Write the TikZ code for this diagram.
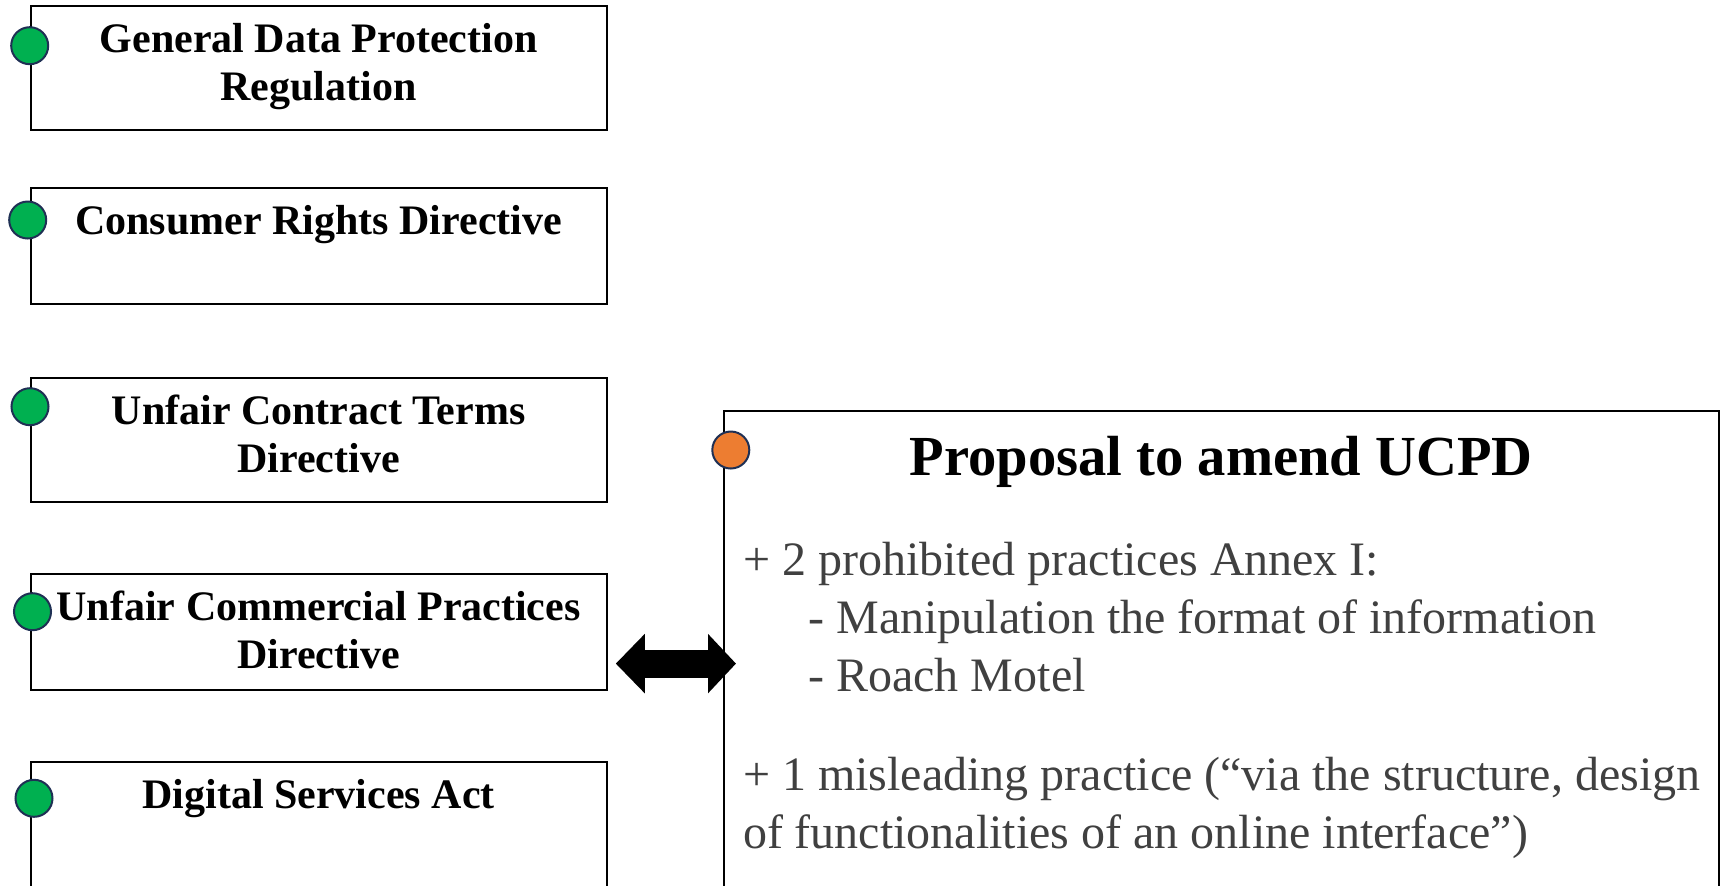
\documentclass[tikz,border=0pt]{standalone}
\usepackage{fontspec}
\setmainfont{Liberation Serif}
\usetikzlibrary{arrows.meta, positioning, calc, shapes}
\definecolor{lawgreen}{RGB}{0,176,80}
\definecolor{proporange}{RGB}{237,125,49}
\definecolor{dotnavy}{RGB}{31,48,84}
\definecolor{bodygray}{RGB}{64,64,64}

\begin{document}
\begin{tikzpicture}[x=0.5pt, y=-0.5pt,
        lawbox/.style={draw, line width=0.9pt, anchor=north west, minimum width=288pt,
            inner ysep=0pt, text height=23.3pt, align=center,
            font=\fontsize{21}{24}\selectfont\bfseries},
        twoline/.style={text height=47.3pt},
        lawdot/.style={circle, draw=dotnavy, fill=lawgreen, line width=1pt, minimum size=18.5pt, inner sep=0pt},
        propdot/.style={lawdot, fill=proporange}]
    \clip (0,0) rectangle (1727,885);

    % --- directives on the left ---
    \node[lawbox, twoline, text depth=14.7pt] (gdpr) at (29.7,4.7) {General Data Protection\\Regulation};
    \node[lawbox, text depth=34.7pt] (crd) at (29.7,186.7) {Consumer Rights Directive};
    \node[lawbox, twoline, text depth=14.4pt] (uctd) at (29.7,377.3) {Unfair Contract Terms\\Directive};
    \node[lawbox, twoline, text depth=11pt] (ucpd) at (29.7,572.7) {Unfair Commercial Practices\\Directive};
    \node[lawbox, text depth=60pt] (dsa) at (29.7,761.3) {Digital Services Act};

    \node[lawdot] (gdprdot) at (29.7,45.7) {};
    \node[lawdot] (crddot) at (27.7,220) {};
    \node[lawdot] (uctddot) at (30,406.7) {};
    \node[lawdot] (ucpddot) at (32.5,611.7) {};
    \node[lawdot] (dsadot) at (34,798.3) {};

    % --- the proposal ---
    \node[draw, line width=0.8pt, anchor=north west, minimum width=497.5pt, inner ysep=0pt,
        text height=32.5pt, text depth=217.5pt,
        font=\fontsize{28.3}{33}\selectfont\bfseries] (proposal) at (722.9,410) {Proposal to amend UCPD};
    \node[propdot] (amenddot) at (730.8,450) {};
    \node[anchor=base west, align=left, inner sep=0pt, text=bodygray,
        font=\fontsize{24}{29}\selectfont] (amendtext) at (742.6,848.3)
        {+ 2 prohibited practices Annex I:\\
         \hspace*{32.7pt}- Manipulation the format of information\\
         \hspace*{32.7pt}- Roach Motel\\[20.6pt]
         + 1 misleading practice (“via the structure, design\\
         of functionalities of an online interface”)};

    \draw[line width=14pt, {Triangle[length=14.5pt,width=28.9pt]}-{Triangle[length=14pt,width=28.9pt]}]
        ($(ucpd.east)+(8.3,31.7)$) -- ($(ucpd.east -| proposal.west)+(13.1,31.7)$);
\end{tikzpicture}
\end{document}
